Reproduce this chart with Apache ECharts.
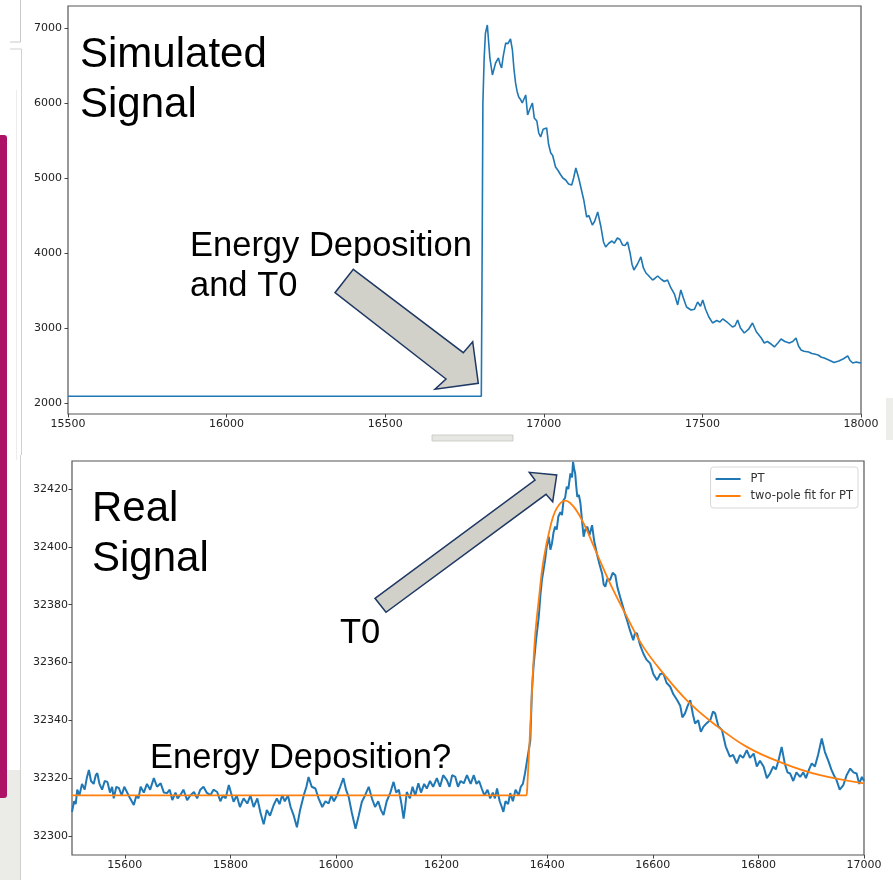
<!DOCTYPE html>
<html>
<head>
<meta charset="utf-8">
<script src="https://cdn.jsdelivr.net/npm/echarts@6/dist/echarts.min.js"></script>
<style>
  html, body { margin: 0; padding: 0; background: #ffffff; }
  #chart { width: 893px; height: 880px; }
</style>
</head>
<body>
<div id="chart"></div>
<script>
// Simulated detector pulse (upper panel)
var simX = [15500, 16803, 16805, 16808, 16812, 16816, 16822, 16830, 16838, 16848, 16857, 16862, 16867, 16872, 16880, 16887, 16895, 16901, 16906, 16911, 16916, 16921, 16926, 16932, 16943, 16949, 16956, 16964, 16970, 16978, 16984, 16990, 16998, 17009, 17015, 17022, 17028, 17037, 17045, 17052, 17060, 17069, 17078, 17088, 17094, 17101, 17110, 17116, 17126, 17135, 17142, 17153, 17160, 17170, 17180, 17188, 17195, 17205, 17215, 17222, 17232, 17240, 17248, 17256, 17264, 17272, 17278, 17284, 17295, 17306, 17314, 17322, 17330, 17343, 17350, 17359, 17370, 17380, 17390, 17400, 17412, 17422, 17432, 17440, 17450, 17464, 17475, 17485, 17494, 17501, 17510, 17520, 17532, 17545, 17555, 17564, 17580, 17595, 17603, 17611, 17620, 17632, 17645, 17658, 17670, 17685, 17695, 17705, 17715, 17727, 17738, 17748, 17760, 17774, 17785, 17795, 17803, 17811, 17820, 17835, 17845, 17853, 17865, 17875, 17884, 17895, 17905, 17915, 17921, 17930, 17945, 17958, 17965, 17974, 17985, 18000];
var simY = [2090, 2090, 3500, 6000, 6600, 6930, 7040, 6600, 6373, 6533, 6600, 6520, 6467, 6620, 6800, 6790, 6853, 6707, 6450, 6267, 6150, 6080, 6050, 6000, 6107, 5840, 5920, 6000, 5800, 5760, 5600, 5547, 5650, 5667, 5450, 5333, 5300, 5147, 5100, 5050, 5000, 4973, 4920, 4907, 5000, 5133, 5000, 5013, 4707, 4480, 4500, 4373, 4420, 4547, 4350, 4150, 4080, 4130, 4160, 4130, 4200, 4180, 4107, 4100, 4147, 4000, 3850, 3773, 3850, 3947, 3800, 3733, 3700, 3640, 3660, 3693, 3650, 3620, 3640, 3540, 3450, 3307, 3507, 3400, 3280, 3240, 3250, 3347, 3290, 3373, 3250, 3150, 3067, 3100, 3080, 3120, 3070, 3013, 3030, 3107, 3000, 2933, 2980, 3067, 2950, 2870, 2800, 2820, 2790, 2747, 2800, 2853, 2820, 2800, 2820, 2867, 2760, 2707, 2690, 2680, 2660, 2653, 2640, 2610, 2600, 2580, 2560, 2540, 2520, 2560, 2590, 2627, 2570, 2533, 2545, 2533];

// Measured PT trace (lower panel)
var ptX = [15500, 15504, 15507, 15510, 15514, 15519, 15524, 15528, 15532, 15536, 15541, 15545, 15548, 15552, 15557, 15562, 15567, 15572, 15576, 15579, 15584, 15589, 15594, 15599, 15604, 15610, 15617, 15622, 15626, 15630, 15636, 15642, 15648, 15655, 15661, 15668, 15674, 15680, 15685, 15690, 15696, 15700, 15705, 15711, 15718, 15724, 15731, 15737, 15743, 15749, 15755, 15762, 15768, 15775, 15781, 15786, 15791, 15797, 15801, 15806, 15812, 15818, 15825, 15832, 15838, 15844, 15851, 15857, 15863, 15869, 15875, 15882, 15888, 15893, 15898, 15903, 15909, 15914, 15920, 15926, 15932, 15939, 15944, 15948, 15954, 15961, 15967, 15974, 15980, 15986, 15991, 15996, 16002, 16008, 16014, 16019, 16024, 16030, 16037, 16043, 16049, 16055, 16062, 16068, 16074, 16080, 16085, 16090, 16096, 16103, 16109, 16114, 16119, 16124, 16128, 16131, 16134, 16140, 16145, 16150, 16156, 16161, 16167, 16172, 16178, 16184, 16191, 16197, 16203, 16210, 16215, 16220, 16226, 16231, 16236, 16242, 16248, 16255, 16261, 16266, 16271, 16276, 16281, 16287, 16292, 16297, 16301, 16305, 16310, 16314, 16317, 16321, 16326, 16330, 16335, 16340, 16346, 16350, 16354, 16358,
  16368, 16371, 16374, 16379, 16384, 16387, 16390, 16393, 16396, 16399, 16403, 16406, 16409, 16412, 16415, 16418, 16421, 16425, 16428, 16431, 16434, 16437, 16440, 16444, 16447, 16449, 16451, 16453, 16455, 16457, 16460, 16463, 16466, 16469, 16472, 16476, 16480, 16485, 16489, 16494, 16499, 16504, 16507, 16510, 16514, 16519, 16524, 16529, 16533, 16538, 16544, 16547, 16551, 16557, 16563, 16566, 16570, 16576, 16582, 16588, 16595, 16601, 16608, 16614, 16620, 16626, 16633, 16639, 16646, 16652, 16656, 16661, 16666, 16671, 16676, 16680, 16686, 16691, 16696, 16702, 16709, 16714, 16718, 16724, 16731, 16738, 16746, 16752, 16759, 16765, 16771, 16778, 16784, 16791, 16797, 16803, 16810, 16816, 16822, 16828, 16833, 16838, 16844, 16850, 16855, 16860, 16866, 16872, 16879, 16885, 16890, 16896, 16901, 16907, 16913, 16920, 16926, 16933, 16938, 16943, 16948, 16954, 16961, 16967, 16974, 16980, 16986, 16991, 16996, 17000];
var ptY = [32308.3, 32312, 32311, 32316, 32314, 32318, 32316, 32320, 32322.8, 32319, 32318, 32321, 32321.7, 32318, 32316, 32319, 32318.7, 32315, 32317, 32313, 32317, 32316.5, 32314, 32317, 32315.2, 32313, 32310.7, 32314, 32313, 32317, 32315, 32318, 32316, 32320, 32317, 32318.2, 32315, 32314.8, 32316, 32312.4, 32315, 32313, 32314.1, 32316, 32312.4, 32314, 32315.2, 32313, 32316, 32317, 32315, 32314.1, 32316, 32315.2, 32312, 32314, 32313, 32317.6, 32315, 32311.8, 32314, 32310, 32313, 32311.2, 32314, 32310, 32313, 32308, 32304, 32309, 32307, 32310.7, 32313, 32311, 32314.1, 32312, 32314, 32310, 32307, 32303, 32309, 32314.1, 32317, 32320.4, 32317, 32316.4, 32313, 32310, 32312, 32311.2, 32314, 32312, 32314.1, 32317, 32320, 32316, 32313.5, 32308, 32302.5, 32307, 32311.8, 32314, 32317, 32313, 32310, 32312, 32309, 32307.2, 32312, 32315, 32318.7, 32315, 32316, 32311, 32306, 32310, 32315.2, 32313, 32317, 32314, 32318.2, 32315, 32318, 32316.4, 32319, 32317, 32320, 32317, 32321, 32319.3, 32317, 32321, 32320.4, 32317, 32319, 32318.2, 32321, 32318, 32321, 32318, 32319, 32316.4, 32314, 32316, 32313, 32315, 32313, 32316.4, 32312, 32310, 32308.3, 32312, 32311, 32314.8, 32312, 32316, 32314.1, 32317, 32318, 32321.7,
  32333, 32350, 32358.5, 32368, 32375.8, 32383, 32388.5, 32392, 32395.4, 32400, 32403.5, 32399, 32401.2, 32405, 32407, 32406, 32410.4, 32412, 32411, 32416.2, 32417, 32420.8, 32420, 32425.4, 32424, 32429.4, 32427, 32425.4, 32421, 32417.3, 32418, 32415, 32409, 32403.5, 32406, 32407, 32404, 32407.5, 32402, 32397.7, 32394, 32390.8, 32387, 32386.2, 32389, 32388.5, 32391, 32390.2, 32386, 32382.7, 32379, 32377, 32374.7, 32371, 32367.7, 32370, 32370.1, 32366, 32363.1, 32361, 32359.7, 32356, 32353.9, 32356, 32356.2, 32353, 32351.6, 32349, 32347, 32345, 32341, 32342.4, 32345, 32347, 32342, 32338.9, 32340, 32336, 32337.8, 32339, 32340.1, 32343, 32342.4, 32338, 32336.6, 32331, 32327.4, 32328, 32325.1, 32328, 32327, 32329.7, 32327, 32328.5, 32324, 32326, 32323.9, 32320, 32321.6, 32324, 32323, 32326, 32330.8, 32325, 32322, 32321.6, 32319, 32322, 32320.4, 32322, 32320, 32323, 32325.1, 32324, 32328, 32333.7, 32329, 32325.7, 32323, 32321, 32319.3, 32316, 32317.6, 32321, 32323.3, 32322, 32321.6, 32318, 32320.4, 32319];

// Two-pole fit of the PT trace
var fitX = [15500, 16360, 16362, 16371, 16377, 16384, 16393, 16406, 16418, 16434, 16450, 16469, 16494, 16519, 16551, 16582, 16620, 16664, 16715, 16778, 16847, 16917, 17000];
var fitY = [32314, 32314, 32316, 32349.4, 32368.9, 32381.6, 32395.4, 32407, 32413.3, 32416, 32413.9, 32408.1, 32397.7, 32387.4, 32375.8, 32365.4, 32356.2, 32347, 32338.9, 32330.8, 32325.1, 32321, 32318.2];

// Tick positions
var topXTicks = [15500, 16000, 16500, 17000, 17500, 18000];
var topYTicks = [2000, 3000, 4000, 5000, 6000, 7000];
var botXTicks = [15600, 15800, 16000, 16200, 16400, 16600, 16800, 17000];
var botYTicks = [32300, 32320, 32340, 32360, 32380, 32400, 32420];

var seriesNames = ['PT', 'two-pole fit for PT'];

function pairs(xs, ys) {
  var out = [];
  for (var i = 0; i < xs.length; i++) out.push([xs[i], ys[i]]);
  return out;
}

var BLUE = '#1f77b4';
var ORANGE = '#ff7f0e';
var TICK_FONT = 'DejaVu Sans';
var TEXT_FONT = 'Liberation Sans';

function axisCfg(gridIndex, min, max, ticks, margin) {
  return {
    type: 'value', gridIndex: gridIndex, min: min, max: max,
    axisLine: { show: false },
    splitLine: { show: false },
    axisTick: { show: true, customValues: ticks, length: 3.5, lineStyle: { color: '#444', width: 1 } },
    axisLabel: { customValues: ticks, color: '#222', fontFamily: TICK_FONT, fontSize: 11, margin: margin,
      formatter: function (v) { return String(v); } }
  };
}

function label(text, x, y, size) {
  return {
    type: 'text', x: x, y: y, z: 100,
    style: { text: text, fill: '#000', font: size + 'px "' + TEXT_FONT + '", Arial, sans-serif',
      textAlign: 'left', textVerticalAlign: 'top' }
  };
}
function arrow(points) {
  return {
    type: 'polygon', z: 90,
    shape: { points: points },
    style: { fill: '#d1d1ca', stroke: '#1f3864', lineWidth: 1.5, lineJoin: 'miter' }
  };
}

var chart = echarts.init(document.getElementById('chart'), null, { renderer: 'canvas' });

chart.setOption({
  backgroundColor: '#ffffff',
  animation: false,
  grid: [
    { left: 68, top: 6, width: 793, height: 408, show: true, borderColor: '#555', borderWidth: 1.2, backgroundColor: '#fff' },
    { left: 72, top: 461, width: 792, height: 394, show: true, borderColor: '#555', borderWidth: 1.2, backgroundColor: '#fff' }
  ],
  xAxis: [
    axisCfg(0, 15500, 18000, topXTicks, 5),
    axisCfg(1, 15500, 17000, botXTicks, 5)
  ],
  yAxis: [
    axisCfg(0, 1853, 7293, topYTicks, 6),
    axisCfg(1, 32293.4, 32429.7, botYTicks, 4)
  ],
  legend: {
    data: seriesNames,
    orient: 'vertical',
    right: 35, top: 467,
    icon: 'rect',
    itemWidth: 25, itemHeight: 2, itemGap: 5,
    padding: [6, 5, 6, 5],
    backgroundColor: '#fff',
    borderColor: '#d8d8d8', borderWidth: 1, borderRadius: 3,
    textStyle: { fontFamily: TICK_FONT, fontSize: 11.5, color: '#333', padding: [0, 0, 0, 5], lineHeight: 12 }
  },
  series: [
    {
      name: 'Simulated', type: 'line', xAxisIndex: 0, yAxisIndex: 0,
      data: pairs(simX, simY), showSymbol: false, symbol: 'none',
      lineStyle: { color: BLUE, width: 1.6 }, itemStyle: { color: BLUE }
    },
    {
      name: seriesNames[0], type: 'line', xAxisIndex: 1, yAxisIndex: 1,
      data: pairs(ptX, ptY), showSymbol: false, symbol: 'none',
      lineStyle: { color: BLUE, width: 2 }, itemStyle: { color: BLUE }
    },
    {
      name: seriesNames[1], type: 'line', xAxisIndex: 1, yAxisIndex: 1,
      data: pairs(fitX, fitY), showSymbol: false, symbol: 'none',
      smooth: 0.4,
      lineStyle: { color: ORANGE, width: 1.8 }, itemStyle: { color: ORANGE }
    }
  ],
  graphic: [
    // slide edge decorations
    { type: 'rect', z: 1, shape: { x: 0, y: 770, width: 20, height: 110 }, style: { fill: '#ebebe8' } },
    { type: 'rect', z: 2, shape: { x: 0, y: 135, width: 7, height: 663, r: [0, 3, 3, 0] }, style: { fill: '#ad1267' } },
    { type: 'polyline', z: 2, shape: { points: [[10, 42], [20.5, 42], [20.5, 0]] }, style: { stroke: '#c8c8c8', lineWidth: 1, fill: null } },
    { type: 'polyline', z: 2, shape: { points: [[10, 49], [21.5, 49], [21.5, 455]] }, style: { stroke: '#d0d0d0', lineWidth: 1, fill: null } },
    { type: 'line', z: 2, shape: { x1: 16.5, y1: 90, x2: 16.5, y2: 460 }, style: { stroke: '#ececec', lineWidth: 1 } },
    { type: 'line', z: 2, shape: { x1: 20.5, y1: 455, x2: 20.5, y2: 880 }, style: { stroke: '#d0d0d0', lineWidth: 1 } },
    { type: 'rect', z: 2, shape: { x: 432, y: 435, width: 81, height: 6 }, style: { fill: '#e6e6e2', stroke: '#c4c4c0', lineWidth: 0.8 } },
    { type: 'rect', z: 2, shape: { x: 886, y: 398, width: 7, height: 42 }, style: { fill: '#ededea' } },

    // annotation text
    label('Simulated', 80, 34, 42),
    label('Signal', 80, 84, 42),
    label('Energy Deposition', 190, 229, 34.5),
    label('and T0', 190, 269, 34.5),
    label('Real', 92, 488, 42),
    label('Signal', 92, 538, 42),
    label('T0', 340, 616, 34.5),
    label('Energy Deposition?', 150, 741, 34.5),

    // callout arrows
    arrow([[353.3, 269.3], [463.3, 352.7], [472.7, 341.7], [478.3, 383.3], [435, 389.3], [446, 379], [335, 292.7]]),
    arrow([[375, 598.3], [535, 480], [529.3, 472.3], [556.7, 475], [552.7, 501.7], [546, 494.3], [386, 612.3]])
  ]
});
</script>
</body>
</html>
